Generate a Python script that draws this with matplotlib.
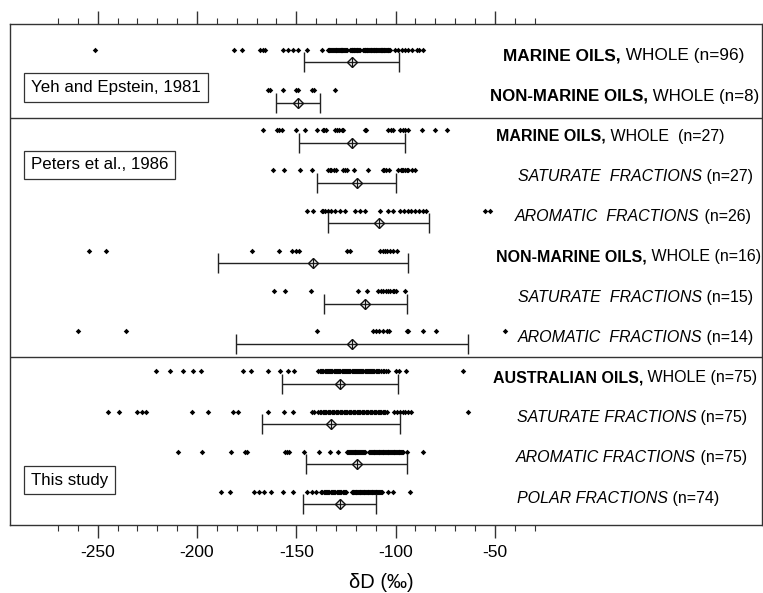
import matplotlib
matplotlib.use("Agg")
import matplotlib.pyplot as plt
from matplotlib.ticker import FixedLocator, NullFormatter, FixedFormatter
import matplotlib.transforms as mtransforms

plt.rcParams['font.family'] = ['Liberation Sans', 'DejaVu Sans']
plt.rcParams['axes.unicode_minus'] = False

# ---------------- data (δD, ‰) ----------------
yeh_marine_whole = [
    -251.4, -181.2, -177.5, -168.3, -167.0, -165.8, -156.5, -154.0, -151.5, -149.0, -144.8, -137.2,
    -133.9, -133.6, -133.4, -132.8, -132.3, -131.9, -131.4, -130.8, -130.4, -130.1, -129.9, -129.5,
    -129.0, -128.6, -128.1, -127.7, -127.5, -127.2, -126.8, -126.4, -125.9, -125.5, -125.1, -124.7,
    -123.1, -122.7, -122.2, -121.8, -121.3, -121.1, -120.9, -120.5, -120.0, -119.6, -119.2, -118.7,
    -118.3, -117.8,
    -116.4, -116.0, -115.6, -115.2, -114.8, -114.6, -114.3, -113.9, -113.5, -113.1, -112.6, -112.2,
    -111.8, -111.4, -111.1, -110.9, -110.5, -110.1, -109.7, -109.2, -108.8, -108.4, -108.0, -107.6,
    -107.2, -107.0, -106.8, -106.4, -106.0, -105.6, -105.2, -104.8, -104.4, -104.0, -103.6, -103.2,
    -102.8,
    -100.3, -98.6, -97.0, -95.3, -93.6, -91.9, -89.4, -88.2, -86.1]
yeh_nonmarine_whole = [-164.0, -163.0, -156.5, -150.0, -149.0, -142.0, -141.0, -130.5]

peters_marine_whole = [-166.6, -159.9, -158.5, -157.4, -150.2, -145.6, -139.7, -136.7, -136.0,
                       -135.0, -130.5, -129.5, -128.3, -127.0, -126.3, -115.4, -115.0, -103.7,
                       -102.5, -101.2, -97.8, -96.5, -95.3, -93.8, -86.7, -80.2, -74.1]
peters_marine_sat = [-161.9, -156.2, -148.1, -142.2, -133.9, -133.2, -132.5, -131.2, -130.0,
                     -126.3, -125.5, -124.6, -120.8, -113.7, -106.5, -105.6, -104.8, -103.2,
                     -98.6, -97.5, -97.0, -96.5, -95.3, -94.5, -93.6, -91.5, -90.2]
peters_marine_aro = [-144.8, -141.5, -137.3, -136.5, -135.6, -133.9, -132.3, -130.6, -128.1,
                     -125.6, -120.5, -118.0, -115.4, -107.9, -103.8, -101.2, -97.8, -95.6,
                     -93.8, -92.0, -90.2, -88.0, -86.0, -84.6, -55.0, -52.4]
peters_nonmarine_whole = [-254.2, -245.8, -172.5, -158.7, -152.3, -150.2, -148.5, -124.6, -123.0,
                          -107.9, -106.2, -105.3, -104.5, -102.8, -101.5, -99.1]
peters_nonmarine_sat = [-161.2, -155.7, -142.6, -118.8, -114.6, -108.7, -107.5, -106.2, -105.0,
                        -103.7, -102.8, -101.5, -101.0, -99.8, -95.3]
peters_nonmarine_aro = [-260.1, -235.9, -139.7, -111.5, -110.0, -108.2, -106.5, -104.5, -103.2,
                        -94.4, -93.6, -86.0, -79.7, -44.9]

aus_whole = [
    -220.6, -213.6, -206.9, -201.9, -198.1, -177.0, -173.0, -164.1, -158.2, -154.0, -151.2,
    -138.9, -138.2, -137.6, -137.0, -136.4, -135.8, -135.2, -134.7, -134.1, -133.5,
    -132.9, -132.4, -131.8, -131.2, -130.6, -130.1, -129.5, -128.9, -128.4, -127.8,
    -127.2, -126.7, -126.1, -125.6, -125.0, -124.4, -123.9, -123.3, -122.8, -122.2,
    -121.7, -121.1, -120.6, -120.0, -119.5, -118.9, -118.4, -117.8, -117.3, -116.7,
    -116.2, -115.6, -115.1, -114.5, -114.0, -113.4, -112.9, -112.3, -111.8, -111.2,
    -110.7, -110.1, -109.5, -108.9, -108.2, -107.4, -106.5, -105.6, -104.6, -103.7,
    -99.8, -98.1, -94.8, -66.2]
aus_sat = [
    -244.7, -239.3, -230.4, -227.8, -225.7, -202.4, -194.3, -182.0, -179.2, -164.1, -156.0, -151.8,
    -142.3, -141.1, -139.0, -138.2, -137.5, -136.8, -136.1, -135.5, -134.8, -134.1,
    -133.5, -132.8, -132.2, -131.5, -130.8, -130.2, -129.5, -128.9, -128.2, -127.6,
    -126.9, -126.2, -125.6, -124.9, -124.3, -123.6, -122.9, -122.3, -121.6, -121.0,
    -120.3, -119.6, -119.0, -118.3, -117.7, -117.0, -116.4, -115.7, -115.0, -114.4,
    -113.7, -113.1, -112.4, -111.7, -111.1, -110.4, -109.8, -109.1, -108.5, -107.8,
    -107.1, -106.5, -105.8, -105.2, -104.5,
    -101.0, -99.5, -98.0, -96.5, -95.3, -94.0, -92.0, -63.4]
aus_aro = [
    -209.5, -197.6, -183.0, -175.8, -174.7, -155.7, -154.5, -153.5, -146.0, -138.4, -133.0, -128.9,
    -124.6, -124.1, -123.6, -123.1, -122.6, -122.1, -121.6, -121.1, -120.6, -120.2,
    -119.7, -119.2, -118.7, -118.2, -117.7, -117.2, -116.7, -116.2, -115.7, -115.2,
    -113.2, -112.8, -112.4, -112.0, -111.5, -111.1, -110.7, -110.3, -109.9, -109.4,
    -109.0, -108.6, -108.2, -107.8, -107.3, -106.9, -106.5, -106.1, -105.7, -105.2,
    -104.8, -104.4, -104.0, -103.6, -103.1, -102.7, -102.3, -101.9, -101.5, -101.0,
    -100.6, -100.2, -99.8, -99.4, -98.9, -98.5, -98.1, -97.7, -97.3, -96.8, -96.4,
    -94.4, -86.0]
aus_polar = [
    -187.9, -183.4, -171.3, -168.6, -166.1, -162.9, -156.8, -151.8, -144.8, -142.3, -140.1,
    -137.5, -136.9, -136.3, -135.7, -135.1, -134.5, -133.9, -133.3, -132.7, -132.1,
    -131.5, -130.9, -130.3, -129.7, -129.1, -128.5, -127.9, -127.3, -126.7, -126.1,
    -125.5, -124.9,
    -122.1, -121.7, -121.3, -120.9, -120.5, -120.1, -119.7, -119.3, -118.9, -118.5,
    -118.1, -117.7, -117.3, -116.9, -116.5, -116.1, -115.7, -115.3, -114.9, -114.5,
    -114.1, -113.7, -113.3, -112.9, -112.5, -112.1, -111.7, -111.3, -110.9, -110.5,
    -110.1, -109.7, -109.3, -108.9, -108.5, -108.0, -107.5, -107.0,
    -103.7, -101.2, -92.7]

series = [yeh_marine_whole, yeh_nonmarine_whole,
          peters_marine_whole, peters_marine_sat, peters_marine_aro,
          peters_nonmarine_whole, peters_nonmarine_sat, peters_nonmarine_aro,
          aus_whole, aus_sat, aus_aro, aus_polar]

means = [-122.1, -149.2, -121.9, -119.6, -108.5, -141.6, -115.2, -122.1, -127.8, -132.5, -119.5, -128.2]
sds = [24.0, 11.0, 26.6, 19.8, 25.5, 48.0, 20.8, 58.4, 29.2, 34.7, 25.4, 18.3]

label_main = ["MARINE OILS,", "NON-MARINE OILS,", "MARINE OILS,", "SATURATE  FRACTIONS",
              "AROMATIC  FRACTIONS", "NON-MARINE OILS,", "SATURATE  FRACTIONS",
              "AROMATIC  FRACTIONS", "AUSTRALIAN OILS,", "SATURATE FRACTIONS",
              "AROMATIC FRACTIONS", "POLAR FRACTIONS"]
label_rest = [" WHOLE (n=96)", " WHOLE (n=8)", " WHOLE  (n=27)", " (n=27)", " (n=26)",
              " WHOLE (n=16)", " (n=15)", " (n=14)", " WHOLE (n=75)", " (n=75)",
              " (n=75)", " (n=74)"]
label_style = ["bold", "bold", "bold", "italic", "italic", "bold", "italic", "italic",
               "bold", "italic", "italic", "italic"]
label_left_px = [503, 490, 496, 518, 515, 496, 518, 518, 493, 517, 516, 517]
label_size = [12.4, 12.2, 11.5, 11.5, 11.5, 11.5, 11.5, 11.5, 11.5, 11.5, 11.5, 11.5]

source_names = ["Yeh and Epstein, 1981", "Peters et al., 1986", "This study"]
source_rows = [0.78, 2.71, 10.55]
section_dividers = [1.54, 7.49]

major_ticks = [-250, -200, -150, -100, -50]
minor_ticks = list(range(-270, -20, 10))

# ---------------- layout ----------------
W, H = 763, 593
fig = plt.figure(figsize=(W / 100, H / 100), dpi=100)
ax_left, ax_right, ax_top, ax_bot = 10, 762, 24, 525
ax = fig.add_axes([ax_left / W, 1 - ax_bot / H, (ax_right - ax_left) / W, (ax_bot - ax_top) / H])

px_per_unit = 1.986
x_at_m250 = 97.7
xmin = -250 - (x_at_m250 - ax_left) / px_per_unit
xmax = xmin + (ax_right - ax_left) / px_per_unit
ax.set_xlim(xmin, xmax)
ax.set_ylim(11.667, -0.796)

edge = '#333333'
for s in ax.spines.values():
    s.set_color(edge)
    s.set_linewidth(1.0)

ax.xaxis.set_major_locator(FixedLocator(major_ticks))
ax.xaxis.set_minor_locator(FixedLocator(minor_ticks))
ax.xaxis.set_major_formatter(FixedFormatter([str(t) for t in major_ticks]))
ax.xaxis.set_minor_formatter(NullFormatter())
ax.set_yticks([])
ax.tick_params(axis='x', which='both', direction='out', top=True, bottom=True,
               labeltop=False, labelbottom=True, color=edge)
ax.tick_params(axis='x', which='major', length=9.5, width=1.0, labelsize=12.5, pad=5)
ax.tick_params(axis='x', which='minor', length=4.5, width=0.8)

dot_off = -0.155
bar_off = 0.157

for i, vals in enumerate(series):
    ax.plot(vals, [i + dot_off] * len(vals), linestyle='none', marker='D',
            markersize=2.8, color='black', markeredgewidth=0)
    ax.errorbar([means[i]], [i + bar_off], xerr=[sds[i]], fmt='none', ecolor='#222222',
                elinewidth=1.0, capsize=7.5, capthick=1.0)
    ax.plot([means[i]], [i + bar_off], linestyle='none', marker='D', markersize=5.0,
            markerfacecolor='none', markeredgecolor='#111111', markeredgewidth=1.0)
    ax.plot([means[i]], [i + bar_off], linestyle='none', marker='|', markersize=7.0,
            color='#111111', markeredgewidth=0.9)

trans = mtransforms.blended_transform_factory(ax.transAxes, ax.transData)
for i in range(len(series)):
    xf = (label_left_px[i] - ax_left) / (ax_right - ax_left)
    if label_style[i] == 'bold':
        t1 = ax.text(xf, i, label_main[i], transform=trans, ha='left', va='center',
                     fontsize=label_size[i], fontweight='bold')
    else:
        t1 = ax.text(xf, i, label_main[i], transform=trans, ha='left', va='center',
                     fontsize=label_size[i], fontstyle='italic')
    ax.annotate(label_rest[i], xy=(1, 0), xycoords=t1, ha='left', va='bottom',
                fontsize=label_size[i])

for y in section_dividers:
    ax.axhline(y, color=edge, linewidth=1.0)

box_text_x = -250 - (x_at_m250 - 31) / px_per_unit
for name, y in zip(source_names, source_rows):
    ax.text(box_text_x, y, name, ha='left', va='center', fontsize=12.2,
            bbox=dict(boxstyle='square,pad=0.4', facecolor='white', edgecolor=edge, linewidth=0.9))

fig.text(381 / W, 1 - 583 / H, 'δD (‰)', ha='center', va='center', fontsize=14.5)

fig.savefig('out.png', dpi=100)
